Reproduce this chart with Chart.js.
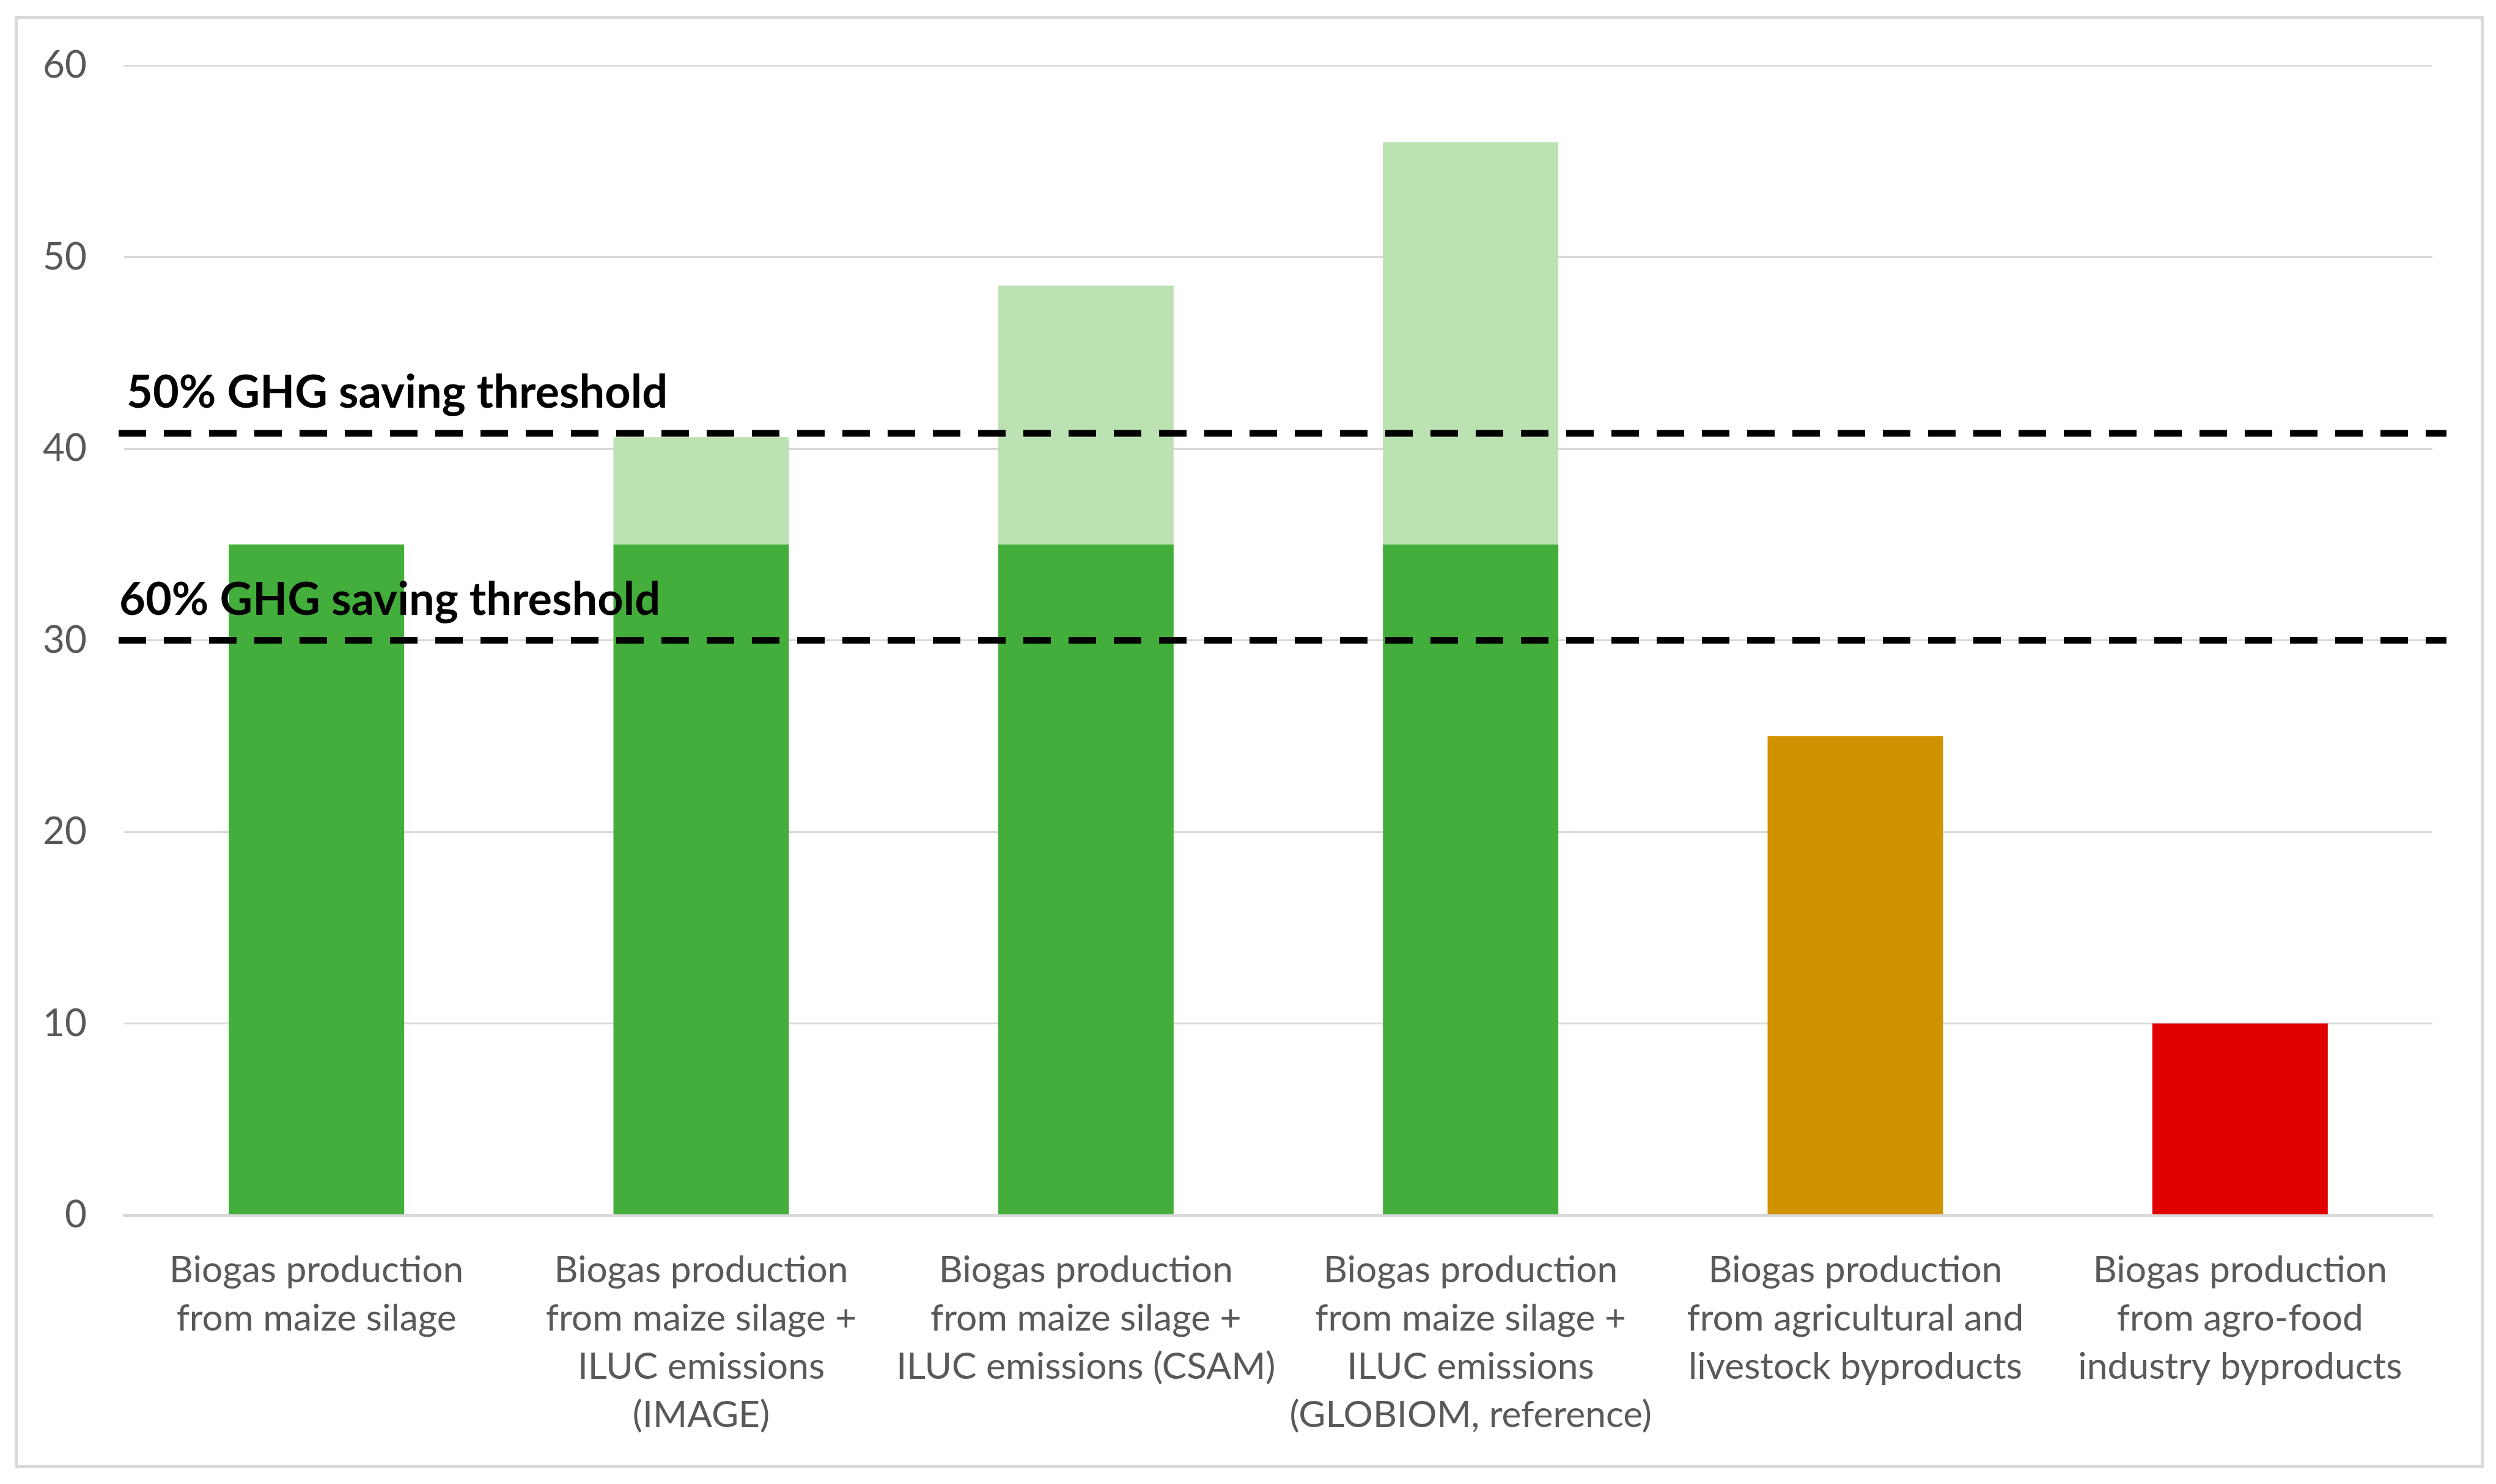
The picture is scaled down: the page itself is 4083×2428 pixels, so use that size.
<!DOCTYPE html>
<html>
<head>
<meta charset="utf-8">
<script src="https://cdn.jsdelivr.net/npm/chart.js@4"></script>
<style>
  html, body { margin: 0; padding: 0; background: #ffffff; }
  #wrap { width: 4083px; height: 2428px; position: relative; }
  canvas { display: block; }
</style>
</head>
<body>
<div id="wrap"><canvas id="c" width="4083" height="2428"></canvas></div>
<script>
// ---- data ----
const categories = [
  ["Biogas production", "from maize silage"],
  ["Biogas production", "from maize silage +", "ILUC emissions", "(IMAGE)"],
  ["Biogas production", "from maize silage +", "ILUC emissions (CSAM)"],
  ["Biogas production", "from maize silage +", "ILUC emissions", "(GLOBIOM, reference)"],
  ["Biogas production", "from agricultural and", "livestock byproducts"],
  ["Biogas production", "from agro-food", "industry byproducts"]
];
const baseValues = [35, 35, 35, 35, 25, 10];
const ilucValues = [0, 5.6, 13.5, 21, 0, 0];
const thresholdValues = [40.8, 30];
const thresholdLabels = ["50% GHG saving threshold", "60% GHG saving threshold"];
const yTicks = [0, 10, 20, 30, 40, 50, 60];

// ---- styles ----
const GREEN = '#43AE3B';
const LIGHT_GREEN = '#BCE1B3';
const ORANGE = '#CF9200';
const RED = '#E00000';
const baseColors = [GREEN, GREEN, GREEN, GREEN, ORANGE, RED];
const FONT = 'Lato, "Open Sans", sans-serif';
const labelShift = [4, -8];

const framePlugin = {
  id: 'frame',
  beforeDraw(chart) {
    const ctx = chart.ctx;
    ctx.save();
    ctx.fillStyle = '#ffffff';
    ctx.fillRect(0, 0, chart.width, chart.height);
    ctx.strokeStyle = '#D9D9D9';
    ctx.lineWidth = 5;
    ctx.strokeRect(26.5, 28.5, 4034, 2371);
    ctx.restore();
  }
};

const thresholdPlugin = {
  id: 'thresholds',
  afterDatasetsDraw(chart) {
    const ctx = chart.ctx;
    const y = chart.scales.y;
    const area = chart.chartArea;
    ctx.save();
    thresholdValues.forEach((v, i) => {
      const py = y.getPixelForValue(v);
      ctx.strokeStyle = '#000000';
      ctx.lineWidth = 11;
      ctx.setLineDash([45, 29]);
      ctx.beginPath();
      ctx.moveTo(area.left - 9, py);
      ctx.lineTo(area.right + 23, py);
      ctx.stroke();
      ctx.setLineDash([]);
      ctx.fillStyle = '#000000';
      ctx.font = 'bold 74px ' + FONT;
      ctx.textAlign = 'left';
      ctx.textBaseline = 'alphabetic';
      ctx.fillText(thresholdLabels[i], area.left + labelShift[i], py - 42);
    });
    ctx.restore();
  }
};

new Chart(document.getElementById('c'), {
  type: 'bar',
  data: {
    labels: categories,
    datasets: [
      {
        label: 'Base',
        data: baseValues,
        backgroundColor: baseColors,
        borderWidth: 0,
        categoryPercentage: 1,
        barPercentage: 0.456,
        stack: 's'
      },
      {
        label: 'ILUC',
        data: ilucValues,
        backgroundColor: LIGHT_GREEN,
        borderWidth: 0,
        categoryPercentage: 1,
        barPercentage: 0.456,
        stack: 's'
      }
    ]
  },
  options: {
    responsive: false,
    devicePixelRatio: 1,
    animation: false,
    layout: { padding: { left: 0, right: 104, top: 107, bottom: 0 } },
    plugins: {
      legend: { display: false },
      tooltip: { enabled: false },
      title: { display: false }
    },
    scales: {
      x: {
        stacked: true,
        grid: { display: false, drawTicks: false },
        border: { display: true, color: '#D9D9D9', width: 5 },
        ticks: {
          color: '#595959',
          font: { family: FONT, size: 60.5, lineHeight: 1.306 },
          padding: 51,
          maxRotation: 0,
          autoSkip: false
        },
        afterFit(scale) { scale.height = 440; }
      },
      y: {
        stacked: true,
        min: 0,
        max: 60,
        afterBuildTicks(scale) { scale.ticks = yTicks.map(v => ({ value: v })); },
        grid: { color: '#D9D9D9', lineWidth: 3, drawTicks: false },
        border: { display: false },
        ticks: {
          color: '#595959',
          font: { family: FONT, size: 62 },
          padding: 61
        },
        afterFit(scale) { scale.width = 203; }
      }
    }
  },
  plugins: [framePlugin, thresholdPlugin]
});
</script>
</body>
</html>
